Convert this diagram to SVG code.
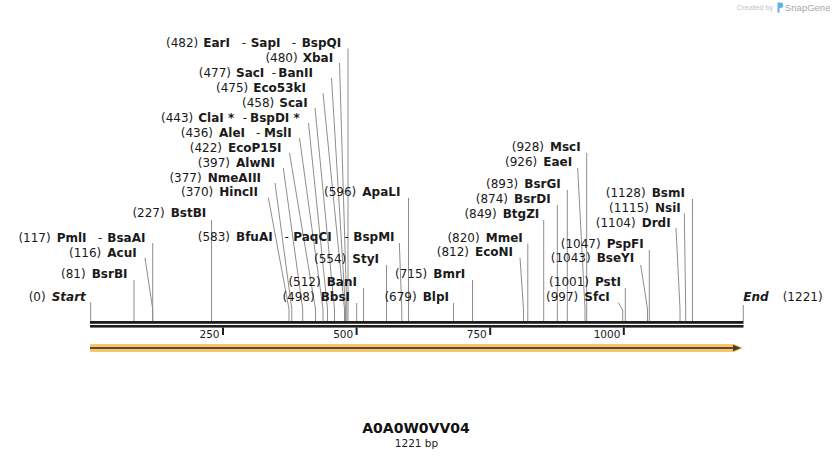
<svg xmlns="http://www.w3.org/2000/svg" width="834" height="460" viewBox="0 0 834 460">
<style>
.t{font-family:"DejaVu Sans",Verdana,sans-serif;font-size:12px;fill:#1a1a1a}
.num{text-anchor:end}
.nm{font-weight:bold}
.sep{font-weight:normal}
.se{font-weight:bold;font-style:italic}
.ln{stroke:#8e8e8e;stroke-width:1;fill:none}
.tick{font-family:"DejaVu Sans",Verdana,sans-serif;font-size:10.5px;fill:#1a1a1a;text-anchor:end}
</style>
<rect width="834" height="460" fill="#ffffff"/>

<g id="connectors">
<path class="ln" d="M348,48.5 V321"/>
<path class="ln" d="M339.5,63 L346.8,309 V321"/>
<path class="ln" d="M331.5,78 L345.5,309 V321"/>
<path class="ln" d="M323,93 L344.5,309 V321"/>
<path class="ln" d="M315,108 L334.5,309 V321"/>
<path class="ln" d="M308.5,123 L327.5,309 V321"/>
<path class="ln" d="M299.5,138 L323,309 V321"/>
<path class="ln" d="M289.5,153 L315.5,309 V321"/>
<path class="ln" d="M283.3,168 L302.7,309 V321"/>
<path class="ln" d="M275,183 L291.8,309 V321"/>
<path class="ln" d="M268.3,197.5 L289,309 V321"/>
<path class="ln" d="M408.5,198 V321"/>
<path class="ln" d="M211.5,220 V321"/>
<path class="ln" d="M399.3,243 L401.8,309 V321"/>
<path class="ln" d="M386.5,265 V321"/>
<path class="ln" d="M363.5,288 V321"/>
<path class="ln" d="M356.7,303 V321"/>
<path class="ln" d="M472.5,280 V321"/>
<path class="ln" d="M453.5,303 V321"/>
<path class="ln" d="M152.7,243 V321"/>
<path class="ln" d="M145,258 L152.7,309 V321"/>
<path class="ln" d="M134,280 V321"/>
<path class="ln" d="M90.7,302 V321"/>
<path class="ln" d="M743.3,305 V321"/>
<path class="ln" d="M586.7,153 V321"/>
<path class="ln" d="M577.7,168 L585,309 V321"/>
<path class="ln" d="M567.3,190 V321"/>
<path class="ln" d="M557.3,205 V321"/>
<path class="ln" d="M543.7,220 V321"/>
<path class="ln" d="M527.8,243.5 V321"/>
<path class="ln" d="M520,257.7 L523.5,309 V321"/>
<path class="ln" d="M649.3,250 V321"/>
<path class="ln" d="M640.7,265 L647.5,309 V321"/>
<path class="ln" d="M625.3,288 V321"/>
<path class="ln" d="M618.3,302.7 L622.7,310 V321"/>
<path class="ln" d="M692.5,199 V321"/>
<path class="ln" d="M684.3,213.3 L685.7,309 V321"/>
<path class="ln" d="M676,228 L680,309 V321"/>
</g>

<g id="backbone">
<rect x="90" y="321" width="653.5" height="2.8" fill="#1e1e1e"/>
<rect x="90" y="325" width="653.5" height="2.6" fill="#1e1e1e"/>
<rect x="222" y="327.5" width="2" height="7.5" fill="#1e1e1e"/>
<rect x="355.6" y="327.5" width="2" height="7.5" fill="#1e1e1e"/>
<rect x="489.2" y="327.5" width="2" height="7.5" fill="#1e1e1e"/>
<rect x="622.8" y="327.5" width="2" height="7.5" fill="#1e1e1e"/>
<text class="tick" x="219.5" y="337.7">250</text>
<text class="tick" x="353.2" y="337.7">500</text>
<text class="tick" x="486.8" y="337.7">750</text>
<text class="tick" x="620.4" y="337.7">1000</text>
</g>

<g id="feature-arrow">
<path d="M90,344 H734 L743.5,348 L734,352 H90 Z" fill="#f8c46c"/>
<rect x="90" y="347" width="644" height="2" fill="#5a4a38"/>
<path d="M733,344.8 L741,348 L733,351.2 Z" fill="#4a3c2e"/>
</g>

<g id="site-EarI" class="t">
<text class="num" x="198.3" y="46.5">(482)</text>
<text class="nm" y="46.5"><tspan x="203.3">EarI</tspan><tspan class="sep" x="241.7">-</tspan><tspan x="250.7">SapI</tspan><tspan class="sep" x="291.7">-</tspan><tspan x="301.7">BspQI</tspan></text>
</g>
<g id="site-XbaI" class="t"><text class="num" x="297.7" y="61.5">(480)</text><text class="nm" x="302.7" y="61.5">XbaI</text></g>
<g id="site-SacI" class="t">
<text class="num" x="231" y="76.5">(477)</text>
<text class="nm" y="76.5"><tspan x="236">SacI</tspan><tspan class="sep" x="271.7">-</tspan><tspan x="278.3">BanII</tspan></text>
</g>
<g id="site-Eco53kI" class="t"><text class="num" x="248.3" y="91.5">(475)</text><text class="nm" x="253.3" y="91.5">Eco53kI</text></g>
<g id="site-ScaI" class="t"><text class="num" x="274.3" y="106.5">(458)</text><text class="nm" x="279.3" y="106.5">ScaI</text></g>
<g id="site-ClaI" class="t">
<text class="num" x="193.3" y="121.5">(443)</text>
<text class="nm" y="121.5"><tspan x="198.3">ClaI *</tspan><tspan class="sep" x="242.7">-</tspan><tspan x="250">BspDI *</tspan></text>
</g>
<g id="site-AleI" class="t">
<text class="num" x="213" y="136.5">(436)</text>
<text class="nm" y="136.5"><tspan x="219">AleI</tspan><tspan class="sep" x="256">-</tspan><tspan x="264">MslI</tspan></text>
</g>
<g id="site-EcoP15I" class="t"><text class="num" x="222" y="151.5">(422)</text><text class="nm" x="228" y="151.5">EcoP15I</text></g>
<g id="site-AlwNI" class="t"><text class="num" x="230" y="166.5">(397)</text><text class="nm" x="236" y="166.5">AlwNI</text></g>
<g id="site-NmeAIII" class="t"><text class="num" x="201.7" y="181.5">(377)</text><text class="nm" x="207.7" y="181.5">NmeAIII</text></g>
<g id="site-HincII" class="t"><text class="num" x="213.3" y="196">(370)</text><text class="nm" x="219.3" y="196">HincII</text></g>
<g id="site-ApaLI" class="t"><text class="num" x="356.3" y="196">(596)</text><text class="nm" x="362.3" y="196">ApaLI</text></g>
<g id="site-BstBI" class="t"><text class="num" x="164.7" y="217">(227)</text><text class="nm" x="170.7" y="217">BstBI</text></g>
<g id="site-BfuAI" class="t">
<text class="num" x="230" y="240.5">(583)</text>
<text class="nm" y="240.5"><tspan x="236">BfuAI</tspan><tspan class="sep" x="284.5">-</tspan><tspan x="293.3">PaqCI</tspan><tspan class="sep" x="344.5">-</tspan><tspan x="353.3">BspMI</tspan></text>
</g>
<g id="site-StyI" class="t"><text class="num" x="346.3" y="262.5">(554)</text><text class="nm" x="352.3" y="262.5">StyI</text></g>
<g id="site-BanI" class="t"><text class="num" x="320.7" y="286">(512)</text><text class="nm" x="326.7" y="286">BanI</text></g>
<g id="site-BbsI" class="t"><text class="num" x="314.7" y="300.7">(498)</text><text class="nm" x="320.7" y="300.7">BbsI</text></g>
<g id="site-BmrI" class="t"><text class="num" x="427.3" y="278">(715)</text><text class="nm" x="433.3" y="278">BmrI</text></g>
<g id="site-BlpI" class="t"><text class="num" x="416.7" y="300.7">(679)</text><text class="nm" x="422.7" y="300.7">BlpI</text></g>
<g id="site-PmlI" class="t">
<text class="num" x="50.7" y="241.5">(117)</text>
<text class="nm" y="241.5"><tspan x="56.7">PmlI</tspan><tspan class="sep" x="98">-</tspan><tspan x="107.3">BsaAI</tspan></text>
</g>
<g id="site-AcuI" class="t"><text class="num" x="101.3" y="256.5">(116)</text><text class="nm" x="107.3" y="256.5">AcuI</text></g>
<g id="site-BsrBI" class="t"><text class="num" x="85.7" y="278">(81)</text><text class="nm" x="91.7" y="278">BsrBI</text></g>
<g id="site-Start" class="t"><text class="num" x="45.7" y="301">(0)</text><text class="se" x="51.7" y="301">Start</text></g>
<g id="site-End" class="t"><text class="se" x="743.3" y="300.7">End</text><text x="782.7" y="300.7">(1221)</text></g>
<g id="site-MscI" class="t"><text class="num" x="544" y="151">(928)</text><text class="nm" x="550" y="151">MscI</text></g>
<g id="site-EaeI" class="t"><text class="num" x="537.3" y="166">(926)</text><text class="nm" x="543.3" y="166">EaeI</text></g>
<g id="site-BsrGI" class="t"><text class="num" x="518.3" y="188.3">(893)</text><text class="nm" x="524.3" y="188.3">BsrGI</text></g>
<g id="site-BsrDI" class="t"><text class="num" x="508" y="202.7">(874)</text><text class="nm" x="514" y="202.7">BsrDI</text></g>
<g id="site-BtgZI" class="t"><text class="num" x="496.7" y="218.3">(849)</text><text class="nm" x="502.7" y="218.3">BtgZI</text></g>
<g id="site-MmeI" class="t"><text class="num" x="479.7" y="241.7">(820)</text><text class="nm" x="485.7" y="241.7">MmeI</text></g>
<g id="site-EcoNI" class="t"><text class="num" x="469" y="255.7">(812)</text><text class="nm" x="475" y="255.7">EcoNI</text></g>
<g id="site-PspFI" class="t"><text class="num" x="600.7" y="247.7">(1047)</text><text class="nm" x="606.7" y="247.7">PspFI</text></g>
<g id="site-BseYI" class="t"><text class="num" x="590.7" y="262.3">(1043)</text><text class="nm" x="596.7" y="262.3">BseYI</text></g>
<g id="site-PstI" class="t"><text class="num" x="589" y="285.7">(1001)</text><text class="nm" x="595" y="285.7">PstI</text></g>
<g id="site-SfcI" class="t"><text class="num" x="578.3" y="300.7">(997)</text><text class="nm" x="584.3" y="300.7">SfcI</text></g>
<g id="site-BsmI" class="t"><text class="num" x="645.7" y="197">(1128)</text><text class="nm" x="651.7" y="197">BsmI</text></g>
<g id="site-NsiI" class="t"><text class="num" x="649" y="212">(1115)</text><text class="nm" x="655" y="212">NsiI</text></g>
<g id="site-DrdI" class="t"><text class="num" x="635.7" y="226.7">(1104)</text><text class="nm" x="641.7" y="226.7">DrdI</text></g>

<g id="title">
<text x="416" y="433.3" text-anchor="middle" style="font-family:'DejaVu Sans',Verdana,sans-serif;font-size:14px;font-weight:bold;fill:#111">A0A0W0VV04</text>
<text x="416.5" y="447.3" text-anchor="middle" style="font-family:'DejaVu Sans',Verdana,sans-serif;font-size:10.5px;fill:#222">1221 bp</text>
</g>

<g id="logo">
<text x="736.7" y="10" style="font-family:'Liberation Sans',Arial,sans-serif;font-size:7.5px;fill:#c4c4c4">Created by</text>
<path d="M777.5,2.5 h3 a2.8,2.8 0 0 1 0,5.6 h-1 v4.6 h-2 Z" fill="#5fb3e6"/>
<text x="785" y="10.8" style="font-family:'Liberation Sans',Arial,sans-serif;font-size:9.5px;fill:#a8a8a8">SnapGene</text>
</g>
</svg>
